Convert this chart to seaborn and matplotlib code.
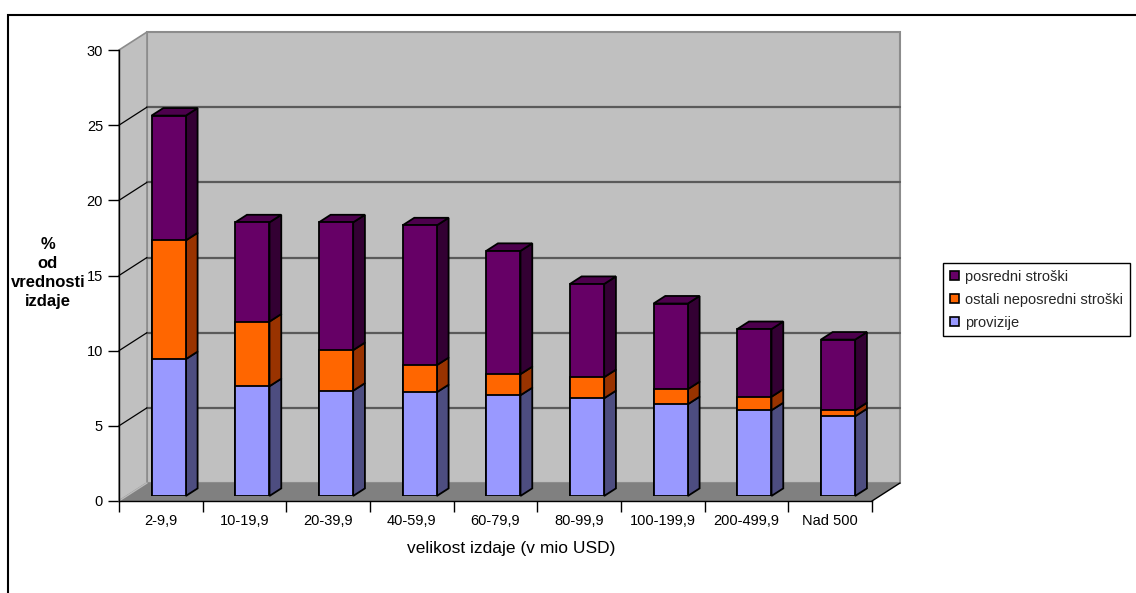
import numpy as np
import matplotlib
matplotlib.use("Agg")
import matplotlib.pyplot as plt
from matplotlib.patches import Polygon, Rectangle, Patch
import seaborn as sns

# --- data -------------------------------------------------------------
categories = ["2-9,9", "10-19,9", "20-39,9", "40-59,9", "60-79,9",
              "80-99,9", "100-199,9", "200-499,9", "Nad 500"]
provizije = [9.1, 7.3, 7.0, 6.9, 6.7, 6.5, 6.1, 5.7, 5.3]
ostali_neposredni = [7.9, 4.3, 2.7, 1.8, 1.4, 1.4, 1.0, 0.9, 0.4]
posredni = [8.3, 6.6, 8.5, 9.3, 8.2, 6.2, 5.7, 4.5, 4.7]
series_names = ["provizije", "ostali neposredni stroški", "posredni stroški"]
y_ticks = [0, 5, 10, 15, 20, 25, 30]

# --- style -------------------------------------------------------------
sns.set_theme(style="white")
plt.rcParams["font.family"] = ["Liberation Sans", "DejaVu Sans"]

front_colors = ["#9999ff", "#ff6600", "#660066"]
side_colors = ["#4d4d80", "#993300", "#330033"]
top_colors = ["#7373bf", "#bf4d00", "#4d004d"]

W, H = 1136, 593
fig = plt.figure(figsize=(W / 100, H / 100), dpi=100)
fig.patch.set_facecolor("white")

# front plane of the plot box, in pixels (y measured from the top)
X0, X1 = 119, 872
Y0, Y1 = 501, 50
DEPTH = (28, 18)          # oblique depth offset: right, up (pixels)
BAR_D0, BAR_D1 = 0.28, 0.70  # bar depth range as a fraction of the box depth
BAR_W = 0.41

n = len(categories)
ymax = y_ticks[-1]
px_x = (X1 - X0) / n
px_y = (Y0 - Y1) / ymax
ddx = DEPTH[0] / px_x
ddy = DEPTH[1] / px_y

# axes holding the walls, floor and the front axis lines
ax = fig.add_axes([X0 / W, (H - Y0) / H, (X1 - X0) / W, (Y0 - Y1) / H])
ax.set_facecolor("none")
ax.set_xlim(-0.5, n - 0.5)
ax.set_ylim(0, ymax)

# back wall
ax.add_patch(Rectangle((-0.5 + ddx, ddy), n, ymax, facecolor="#c0c0c0",
                       edgecolor="#8c8c8c", lw=1.5, clip_on=False, zorder=0))
# left side wall
ax.add_patch(Polygon([(-0.5, 0), (-0.5 + ddx, ddy), (-0.5 + ddx, ymax + ddy), (-0.5, ymax)],
                     closed=True, facecolor="#c0c0c0", edgecolor="#8c8c8c", lw=1.2,
                     clip_on=False, zorder=0))
# floor
ax.add_patch(Polygon([(-0.5, 0), (-0.5 + ddx, ddy), (n - 0.5 + ddx, ddy), (n - 0.5, 0)],
                     closed=True, facecolor="#808080", edgecolor="none",
                     clip_on=False, zorder=0.5))
ax.plot([n - 0.5, n - 0.5 + ddx], [0, ddy], color="black", lw=1, clip_on=False, zorder=0.6)
ax.plot([-0.5, -0.5 + ddx], [0, ddy], color="#bbbbbb", lw=1, clip_on=False, zorder=0.6)

# gridlines on the back wall and their traces on the side wall
for t in y_ticks[1:-1]:
    ax.plot([-0.5 + ddx, n - 0.5 + ddx], [t + ddy, t + ddy], color="#5a5a5a", lw=1.6,
            clip_on=False, zorder=0.4)
    ax.plot([-0.5, -0.5 + ddx], [t, t + ddy], color="black", lw=0.9,
            clip_on=False, zorder=0.4)

# front axis lines and ticks
for side in ["top", "right"]:
    ax.spines[side].set_visible(False)
for side in ["left", "bottom"]:
    ax.spines[side].set_color("black")
    ax.spines[side].set_linewidth(1.0)
    ax.spines[side].set_zorder(3)
ax.set_yticks(y_ticks)
ax.set_yticklabels([str(t) for t in y_ticks])
ax.set_xticks(np.arange(n))
ax.set_xticklabels(categories)
ax.set_xticks(np.arange(n + 1) - 0.5, minor=True)
ax.tick_params(axis="y", which="major", left=True, length=8, width=1, color="black",
               direction="out", pad=3.5, labelsize=10.5, labelcolor="black")
ax.tick_params(axis="x", which="major", bottom=True, length=0, pad=9.5,
               labelsize=10.5, labelcolor="black")
ax.tick_params(axis="x", which="minor", bottom=True, length=8, width=1, color="black",
               direction="out")

ax.set_xlabel("velikost izdaje (v mio USD)", fontsize=12.5, color="black")
ax.xaxis.label.set_va("center")
ax.xaxis.set_label_coords((511.5 - X0) / (X1 - X0), (Y0 - 548) / (Y0 - Y1))
ax.set_ylabel("%\nod\nvrednosti\nizdaje", fontsize=12, fontweight="bold", color="black",
              rotation=0, ha="center", va="center", multialignment="center", linespacing=1.35)
ax.yaxis.set_label_coords((48 - X0) / (X1 - X0), (Y0 - 273) / (Y0 - Y1))

# axes for the bars, shifted back to the front plane of the bars
ox, oy = BAR_D0 * DEPTH[0], BAR_D0 * DEPTH[1]
axb = fig.add_axes([(X0 + ox) / W, (H - Y0 + oy) / H, (X1 - X0) / W, (Y0 - Y1) / H])
axb.set_facecolor("none")

series = [provizije, ostali_neposredni, posredni]
cums = np.cumsum(np.array(series, dtype=float), axis=0)

# stacked front faces: the tallest cumulative total first
for k in range(len(series) - 1, -1, -1):
    sns.barplot(x=categories, y=cums[k], color=front_colors[k], saturation=1,
                width=BAR_W, edgecolor="black", linewidth=1.3, errorbar=None,
                ax=axb, zorder=3)

axb.set_xlim(-0.5, n - 0.5)
axb.set_ylim(0, ymax)
axb.axis("off")

# side and top faces of the bars
bdx = (BAR_D1 - BAR_D0) * ddx
bdy = (BAR_D1 - BAR_D0) * ddy
for i in range(n):
    xr = i + BAR_W / 2
    xl = i - BAR_W / 2
    for k in range(len(series)):
        b = cums[k - 1][i] if k > 0 else 0.0
        t = cums[k][i]
        axb.add_patch(Polygon([(xr, b), (xr + bdx, b + bdy), (xr + bdx, t + bdy), (xr, t)],
                              closed=True, facecolor=side_colors[k], edgecolor="black",
                              lw=1.3, clip_on=False, zorder=2))
    top = cums[-1][i]
    axb.add_patch(Polygon([(xl, top), (xr, top), (xr + bdx, top + bdy), (xl + bdx, top + bdy)],
                          closed=True, facecolor=top_colors[-1], edgecolor="black",
                          lw=1.3, clip_on=False, zorder=2))

# legend (top series first)
handles = [Patch(facecolor=front_colors[k], edgecolor="black", lw=1.2, label=series_names[k])
           for k in range(len(series) - 1, -1, -1)]
leg = fig.legend(handles=handles, loc="upper left",
                 bbox_to_anchor=(943 / W, 1 - 263 / H), frameon=True, fancybox=False,
                 fontsize=10.5, handlelength=0.62, handleheight=0.62, handletextpad=0.45,
                 borderpad=0.45, labelspacing=0.62, borderaxespad=0)
leg.get_frame().set_edgecolor("black")
leg.get_frame().set_linewidth(1.0)
leg.get_frame().set_alpha(1)

# outer chart border
fig.add_artist(Rectangle((8 / W, -0.5), 2.0, 1 - 15 / H + 0.5, transform=fig.transFigure,
                         fill=False, edgecolor="black", lw=1.5))

fig.savefig("out.png", dpi=100)
